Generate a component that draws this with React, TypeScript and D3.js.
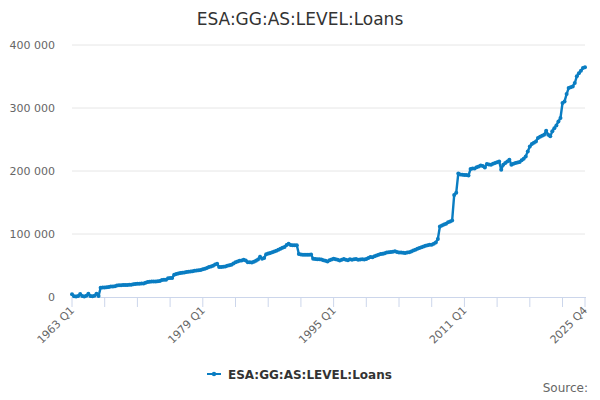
import * as d3 from 'd3';

const firstYear = 1963;
const lastYear = 2025;
const quarters = ['Q1', 'Q2', 'Q3', 'Q4'];
const categories: string[] = d3.range(firstYear, lastYear + 1).flatMap((y) => quarters.map((q) => `${y} ${q}`));

// quarterly loans, one row per year (Q1..Q4)
const loans = [
  4500, 1200, 800, 1500, // 1963
  4800, 1500, 900, 1800,
  5000, 1400, 1000, 1800,
  5200, 1500, 14800, 15000,
  15200, 15300, 15800, 16500,
  16800, 17000, 18200, 18600,
  18800, 19000, 19200, 19100,
  19300, 19600, 20200, 20800,
  21000, 21200, 21300, 21600,
  22500, 23800, 24200, 24500,
  24600, 24800, 25000, 25500,
  27000, 27200, 27500, 29800,
  30000, 30200, 35500, 36500, // 1975
  37500, 38000, 38500, 39000,
  39500, 40200, 40600, 41000,
  41500, 42000, 42500, 43000,
  44000, 45000, 46200, 47500, // 1979
  48500, 49700, 51500, 52900,
  47600, 47800, 48200, 48600,
  49500, 50500, 51300, 53000,
  55000, 56500, 57500, 58100,
  59000, 58000, 55200, 55000,
  54900, 56000, 57600, 59500,
  64000, 60800, 62000, 68000,
  69000, 69800, 71000, 72400,
  73500, 75100, 76500, 78000,
  79500, 82500, 84600, 82500,
  82000, 82200, 82000, 68200, // 1990
  67500, 67100, 67000, 67200,
  67000, 67300, 60800, 60500,
  60000, 59800, 59500, 58500,
  57500, 56500, 58500, 59500,
  60800, 60000, 59000, 57900, // 1995
  59000, 60500, 59000, 58500,
  60000, 59200, 59800, 60200,
  59000, 59500, 60000, 59500,
  60500, 62000, 63500, 63000,
  64500, 66000, 67000, 68200, // 2000
  68500, 69500, 70500, 71000,
  71400, 72000, 72800, 71500,
  70800, 70500, 70200, 69800,
  70500, 71000, 72400, 74000,
  75100, 76500, 77800, 79000, // 2005
  80000, 81400, 82000, 83000,
  83000, 84500, 86700, 92000,
  112000, 113500, 115000, 116300,
  118500, 120000, 121600, 162000,
  165500, 196000, 194500, 194000, // 2010
  193800, 193500, 193000, 203000,
  204000, 204100, 206000, 207300,
  208900, 208000, 205700, 211100,
  210500, 210000, 211500, 212700,
  214000, 215200, 202000, 210000, // 2015
  212700, 215200, 218000, 210000,
  211500, 212700, 213500, 214300,
  217000, 219500, 223200, 231100,
  239000, 242900, 245000, 247000,
  252400, 254500, 256000, 257600, // 2020
  264000, 257600, 255000, 262900,
  268000, 272400, 278700, 284100,
  307900, 310500, 322200, 331700,
  333000, 334300, 339700, 350200,
  355000, 359200, 363500, 364500, // 2025
];

const yTicks = [0, 100000, 200000, 300000, 400000];
const seriesName = 'ESA:GG:AS:LEVEL:Loans';
const title = 'ESA:GG:AS:LEVEL:Loans';

const W = 600;
const H = 400;
const blue = '#0a7dc2';
const font = '"DejaVu Sans", Verdana, sans-serif';

export default function App() {
  const x = d3.scaleLinear().domain([0, categories.length - 1]).range([72, 585]);
  const y = d3.scaleLinear().domain([0, 400000]).range([297, 45]);
  const line = d3
    .line<number>()
    .x((_, i) => x(i))
    .y((d) => y(d));

  const fmt = (v: number) => d3.format(',')(v).replace(/,/g, ' ');

  // tick every 16 quarters, labels every 64, plus the last category
  const tickIdx = d3.range(0, categories.length, 16).concat([categories.length - 1]);
  const labelIdx = d3.range(0, categories.length, 64).concat([categories.length - 1]);

  return (
    <svg width={W} height={H} style={{ display: 'block', margin: -8, fontFamily: font }}>
      <rect width={W} height={H} fill="#fff" />
      <text x={300} y={25} textAnchor="middle" fontSize={17} fill="#333">
        {title}
      </text>

      {yTicks.map((t) => (
        <g key={t}>
          {t > 0 && <line x1={72} x2={585} y1={y(t)} y2={y(t)} stroke="#e6e6e6" />}
          <text x={55} y={y(t) + 4} textAnchor="end" fontSize={11} fill="#666">
            {fmt(t)}
          </text>
        </g>
      ))}

      <line x1={72} x2={586} y1={297.5} y2={297.5} stroke="#ccd6eb" />
      {tickIdx.map((i) => (
        <line key={i} x1={x(i)} x2={x(i)} y1={297} y2={307} stroke="#ccd6eb" />
      ))}
      {labelIdx.map((i) => (
        <text
          key={i}
          transform={`translate(${x(i) + 3},${311}) rotate(-45)`}
          textAnchor="end"
          fontSize={11}
          fill="#666"
        >
          {categories[i]}
        </text>
      ))}

      <path d={line(loans) ?? ''} fill="none" stroke={blue} strokeWidth={2.4} strokeLinejoin="round" />
      {loans.map((v, i) => (
        <circle key={i} cx={x(i)} cy={y(v)} r={2} fill={blue} />
      ))}

      <line x1={207} x2={221} y1={374} y2={374} stroke={blue} strokeWidth={2} />
      <circle cx={214} cy={374} r={2.2} fill={blue} />
      <text x={228} y={378.5} fontSize={12} fontWeight="bold" fill="#333">
        {seriesName}
      </text>

      <text x={588} y={392} textAnchor="end" fontSize={12} fill="#666">
        Source:
      </text>
    </svg>
  );
}
